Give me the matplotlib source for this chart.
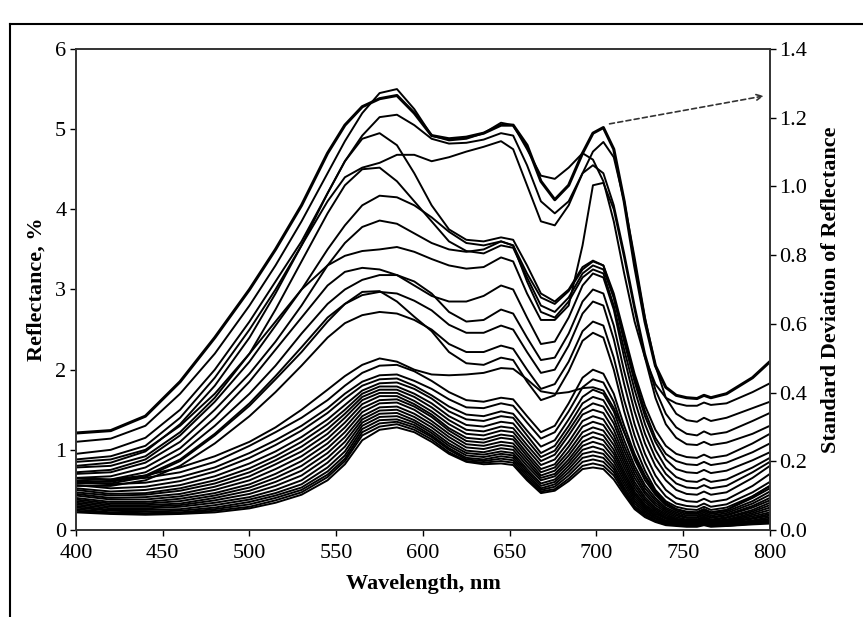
import matplotlib
matplotlib.use("Agg")
import matplotlib.pyplot as plt
from matplotlib.lines import Line2D

# wavelength grid (nm) used for every spectrum
wavelength = [400, 420, 440, 460, 480, 500,
              515, 530, 545, 555, 565, 575,
              585, 595, 605, 615, 625, 635, 645, 652,
              660, 668, 676, 684, 692, 698, 704, 710, 716,
              722, 728, 734, 740, 746, 752, 758, 762, 766, 775, 790, 800]

# upper spectra (reflectance, %)
u1 = [1.21, 1.24, 1.42, 1.85, 2.40, 3.00,
      3.50, 4.05, 4.70, 5.05, 5.28, 5.38,
      5.42, 5.20, 4.92, 4.88, 4.90, 4.95, 5.05, 5.05,
      4.80, 4.35, 4.12, 4.30, 4.70, 4.95, 5.02, 4.75, 4.10,
      3.30, 2.60, 2.05, 1.78, 1.68, 1.65, 1.64, 1.68, 1.65, 1.70, 1.90, 2.10]
u2 = [1.10, 1.14, 1.30, 1.70, 2.20, 2.80,
      3.30, 3.85, 4.45, 4.85, 5.20, 5.45,
      5.50, 5.25, 4.92, 4.86, 4.88, 4.95, 5.08, 5.05,
      4.75, 4.42, 4.38, 4.52, 4.70, 4.62, 4.35, 3.85, 3.20,
      2.60, 2.15, 1.82, 1.65, 1.58, 1.55, 1.55, 1.59, 1.56, 1.58, 1.72, 1.83]
u3 = [0.95, 1.00, 1.15, 1.50, 2.00, 2.60,
      3.10, 3.60, 4.20, 4.60, 4.92, 5.15,
      5.18, 5.05, 4.88, 4.82, 4.83, 4.87, 4.95, 4.92,
      4.55, 4.10, 3.95, 4.10, 4.45, 4.72, 4.84, 4.65, 4.10,
      3.40, 2.65, 2.05, 1.65, 1.45, 1.37, 1.35, 1.40, 1.36, 1.40, 1.52, 1.60]
u4 = [0.88, 0.92, 1.05, 1.40, 1.90, 2.50,
      3.00, 3.55, 4.10, 4.40, 4.52, 4.58,
      4.68, 4.68, 4.60, 4.65, 4.72, 4.78, 4.85, 4.75,
      4.30, 3.85, 3.80, 4.05, 4.45, 4.55, 4.45, 4.05, 3.45,
      2.80, 2.20, 1.75, 1.45, 1.28, 1.20, 1.18, 1.23, 1.19, 1.22, 1.36, 1.46]
u5 = [0.80, 0.84, 0.98, 1.32, 1.80, 2.40,
      2.95, 3.55, 4.20, 4.60, 4.88, 4.95,
      4.80, 4.45, 4.05, 3.75, 3.62, 3.60, 3.65, 3.62,
      3.30, 2.95, 2.85, 3.00, 3.28, 3.36, 3.30, 2.95, 2.45,
      1.95, 1.55, 1.25, 1.05, 0.95, 0.91, 0.90, 0.94, 0.90, 0.93, 1.08, 1.20]
u6 = [0.78, 0.80, 0.92, 1.22, 1.65, 2.20,
      2.75, 3.35, 3.95, 4.30, 4.50, 4.52,
      4.35, 4.10, 3.85, 3.60, 3.48, 3.45, 3.55, 3.52,
      3.15, 2.80, 2.72, 2.90, 3.20, 3.30, 3.25, 2.90, 2.40,
      1.90, 1.48, 1.15, 0.95, 0.86, 0.82, 0.81, 0.85, 0.81, 0.84, 0.97, 1.08]

# middle spectra
m1 = [0.72, 0.75, 0.88, 1.18, 1.60, 2.10,
      2.55, 3.00, 3.50, 3.80, 4.05, 4.17,
      4.15, 4.05, 3.90, 3.72, 3.58, 3.55, 3.60, 3.55,
      3.20, 2.90, 2.82, 2.98, 3.25, 3.35, 3.30, 2.90, 2.35,
      1.85, 1.42, 1.10, 0.88, 0.76, 0.72, 0.71, 0.75, 0.71, 0.74, 0.87, 0.97]
m2 = [0.70, 0.72, 0.84, 1.10, 1.50, 1.95,
      2.35, 2.80, 3.30, 3.58, 3.78, 3.86,
      3.82, 3.70, 3.58, 3.50, 3.47, 3.50, 3.60, 3.55,
      3.10, 2.72, 2.65, 2.85, 3.15, 3.25, 3.20, 2.80, 2.25,
      1.75, 1.32, 1.00, 0.78, 0.66, 0.61, 0.60, 0.64, 0.60, 0.63, 0.78, 0.90]
m3 = [0.85, 0.88, 1.00, 1.30, 1.70, 2.20,
      2.60, 3.00, 3.30, 3.42, 3.48, 3.50,
      3.53, 3.47, 3.38, 3.30, 3.26, 3.28, 3.40, 3.35,
      2.95, 2.62, 2.62, 2.80, 3.55, 4.30, 4.33, 4.00, 3.40,
      2.75, 2.15, 1.65, 1.32, 1.15, 1.07, 1.06, 1.10, 1.06, 1.09, 1.20, 1.30]
m4 = [0.65, 0.67, 0.78, 1.02, 1.40, 1.85,
      2.25, 2.65, 3.05, 3.22, 3.27, 3.25,
      3.18, 3.05, 2.92, 2.85, 2.85, 2.92, 3.05, 3.00,
      2.65, 2.32, 2.35, 2.65, 3.05, 3.20, 3.15, 2.75, 2.15,
      1.62, 1.20, 0.90, 0.70, 0.58, 0.53, 0.52, 0.56, 0.52, 0.55, 0.72, 0.85]
m5 = [0.62, 0.63, 0.72, 0.95, 1.30, 1.70,
      2.05, 2.45, 2.82, 3.00, 3.12, 3.18,
      3.18, 3.10, 2.95, 2.72, 2.60, 2.62, 2.75, 2.70,
      2.40, 2.12, 2.15, 2.45, 2.85, 3.00, 2.95, 2.55, 1.98,
      1.48, 1.08, 0.80, 0.62, 0.50, 0.45, 0.44, 0.48, 0.44, 0.47, 0.65, 0.80]
m6 = [0.60, 0.60, 0.68, 0.88, 1.20, 1.58,
      1.92, 2.28, 2.65, 2.82, 2.93, 2.97,
      2.95, 2.86, 2.74, 2.56, 2.46, 2.46, 2.55, 2.50,
      2.22, 1.96, 2.00, 2.30, 2.70, 2.85, 2.80, 2.38, 1.82,
      1.32, 0.95, 0.68, 0.50, 0.40, 0.36, 0.35, 0.39, 0.35, 0.38, 0.55, 0.70]
m7 = [0.55, 0.55, 0.62, 0.80, 1.08, 1.42,
      1.72, 2.05, 2.40, 2.58, 2.68, 2.72,
      2.70, 2.62, 2.50, 2.32, 2.22, 2.22, 2.30, 2.26,
      2.00, 1.76, 1.82, 2.10, 2.48, 2.60, 2.55, 2.15, 1.62,
      1.18, 0.84, 0.58, 0.42, 0.33, 0.30, 0.29, 0.33, 0.29, 0.32, 0.47, 0.60]
m8 = [0.58, 0.58, 0.66, 0.86, 1.18, 1.55,
      1.88, 2.22, 2.60, 2.82, 2.97, 2.98,
      2.85, 2.66, 2.48, 2.22, 2.08, 2.06, 2.15, 2.12,
      1.85, 1.62, 1.68, 1.98, 2.36, 2.46, 2.40, 2.00, 1.48,
      1.05, 0.74, 0.50, 0.36, 0.29, 0.26, 0.25, 0.29, 0.25, 0.28, 0.42, 0.55]
m9 = [0.65, 0.63, 0.68, 0.78, 0.92, 1.10,
      1.28, 1.50, 1.75, 1.92, 2.06, 2.14,
      2.10, 2.00, 1.94, 1.93, 1.94, 1.96, 2.02, 2.01,
      1.88, 1.73, 1.70, 1.72, 1.77, 1.78, 1.74, 1.52, 1.22,
      0.92, 0.66, 0.46, 0.33, 0.26, 0.23, 0.22, 0.26, 0.22, 0.25, 0.42, 0.55]

# lower spectra
l1 = [0.65, 0.62, 0.65, 0.72, 0.85, 1.05,
      1.22, 1.40, 1.62, 1.80, 1.96, 2.05,
      2.06, 1.98, 1.86, 1.72, 1.62, 1.60, 1.65, 1.63,
      1.42, 1.22, 1.30, 1.58, 1.90, 2.00, 1.95, 1.70, 1.30,
      0.95, 0.68, 0.48, 0.34, 0.26, 0.22, 0.22, 0.26, 0.22, 0.25, 0.40, 0.52]
l2 = [0.60, 0.57, 0.59, 0.66, 0.78, 0.96,
      1.12, 1.30, 1.52, 1.70, 1.85, 1.93,
      1.94, 1.86, 1.76, 1.63, 1.53, 1.52, 1.58, 1.55,
      1.34, 1.14, 1.22, 1.48, 1.78, 1.88, 1.84, 1.60, 1.22,
      0.88, 0.62, 0.44, 0.31, 0.24, 0.20, 0.20, 0.24, 0.20, 0.23, 0.36, 0.48]
l3 = [0.56, 0.52, 0.54, 0.61, 0.73, 0.90,
      1.06, 1.24, 1.46, 1.64, 1.80, 1.88,
      1.89, 1.80, 1.68, 1.54, 1.44, 1.42, 1.48, 1.45,
      1.24, 1.04, 1.12, 1.38, 1.66, 1.75, 1.70, 1.48, 1.12,
      0.80, 0.56, 0.40, 0.28, 0.22, 0.18, 0.18, 0.22, 0.18, 0.21, 0.33, 0.44]
l4 = [0.52, 0.48, 0.50, 0.56, 0.67, 0.83,
      0.98, 1.16, 1.38, 1.56, 1.74, 1.83,
      1.84, 1.76, 1.64, 1.48, 1.38, 1.36, 1.42, 1.40,
      1.18, 0.96, 1.05, 1.30, 1.58, 1.66, 1.62, 1.40, 1.05,
      0.75, 0.52, 0.37, 0.26, 0.20, 0.16, 0.16, 0.20, 0.16, 0.19, 0.30, 0.40]
l5 = [0.50, 0.45, 0.46, 0.52, 0.62, 0.77,
      0.92, 1.10, 1.32, 1.50, 1.70, 1.79,
      1.79, 1.70, 1.58, 1.42, 1.31, 1.29, 1.35, 1.33,
      1.12, 0.91, 0.99, 1.24, 1.50, 1.58, 1.54, 1.33, 0.99,
      0.70, 0.48, 0.34, 0.24, 0.18, 0.15, 0.15, 0.19, 0.15, 0.18, 0.28, 0.37]
l6 = [0.47, 0.43, 0.44, 0.49, 0.58, 0.72,
      0.87, 1.04, 1.26, 1.45, 1.66, 1.75,
      1.75, 1.66, 1.53, 1.37, 1.25, 1.23, 1.29, 1.27,
      1.06, 0.86, 0.94, 1.18, 1.44, 1.50, 1.46, 1.25, 0.93,
      0.65, 0.45, 0.31, 0.22, 0.16, 0.13, 0.13, 0.17, 0.13, 0.16, 0.25, 0.34]
l7 = [0.45, 0.40, 0.41, 0.45, 0.54, 0.67,
      0.82, 0.98, 1.20, 1.40, 1.62, 1.71,
      1.71, 1.61, 1.48, 1.32, 1.20, 1.18, 1.24, 1.22,
      1.01, 0.81, 0.88, 1.10, 1.36, 1.42, 1.38, 1.18, 0.88,
      0.60, 0.41, 0.28, 0.20, 0.14, 0.12, 0.12, 0.16, 0.12, 0.15, 0.23, 0.31]
l8 = [0.43, 0.38, 0.38, 0.42, 0.50, 0.62,
      0.76, 0.92, 1.14, 1.34, 1.57, 1.67,
      1.67, 1.57, 1.44, 1.27, 1.15, 1.13, 1.19, 1.17,
      0.96, 0.76, 0.82, 1.04, 1.29, 1.35, 1.31, 1.12, 0.83,
      0.56, 0.38, 0.26, 0.18, 0.13, 0.11, 0.11, 0.15, 0.11, 0.13, 0.21, 0.28]
l9 = [0.40, 0.35, 0.35, 0.39, 0.46, 0.57,
      0.70, 0.86, 1.08, 1.28, 1.52, 1.62,
      1.63, 1.54, 1.41, 1.24, 1.11, 1.09, 1.15, 1.13,
      0.92, 0.72, 0.78, 0.98, 1.22, 1.28, 1.24, 1.06, 0.78,
      0.52, 0.35, 0.24, 0.16, 0.12, 0.10, 0.10, 0.14, 0.10, 0.12, 0.19, 0.25]
l10 = [0.38, 0.33, 0.33, 0.36, 0.43, 0.53,
       0.65, 0.80, 1.02, 1.22, 1.47, 1.58,
       1.59, 1.50, 1.36, 1.20, 1.07, 1.05, 1.10, 1.08,
       0.88, 0.68, 0.74, 0.93, 1.16, 1.22, 1.18, 1.00, 0.73,
       0.48, 0.32, 0.22, 0.15, 0.11, 0.09, 0.09, 0.13, 0.09, 0.11, 0.17, 0.22]
l11 = [0.36, 0.31, 0.31, 0.33, 0.40, 0.49,
       0.60, 0.74, 0.96, 1.16, 1.42, 1.53,
       1.54, 1.45, 1.32, 1.16, 1.03, 1.01, 1.06, 1.04,
       0.84, 0.65, 0.70, 0.88, 1.10, 1.16, 1.12, 0.95, 0.69,
       0.45, 0.30, 0.20, 0.14, 0.10, 0.08, 0.08, 0.12, 0.08, 0.10, 0.15, 0.20]
l12 = [0.34, 0.29, 0.29, 0.31, 0.37, 0.45,
       0.55, 0.68, 0.90, 1.10, 1.38, 1.49,
       1.50, 1.41, 1.28, 1.12, 0.99, 0.97, 1.02, 1.00,
       0.80, 0.62, 0.67, 0.84, 1.05, 1.10, 1.06, 0.90, 0.65,
       0.42, 0.28, 0.18, 0.12, 0.09, 0.08, 0.08, 0.11, 0.08, 0.09, 0.14, 0.18]
l13 = [0.32, 0.27, 0.27, 0.29, 0.34, 0.41,
       0.50, 0.62, 0.84, 1.04, 1.34, 1.45,
       1.46, 1.37, 1.24, 1.08, 0.96, 0.94, 0.98, 0.96,
       0.76, 0.58, 0.63, 0.80, 1.00, 1.04, 1.00, 0.85, 0.61,
       0.39, 0.26, 0.17, 0.11, 0.08, 0.07, 0.07, 0.10, 0.07, 0.08, 0.12, 0.16]
l14 = [0.30, 0.25, 0.25, 0.26, 0.31, 0.38,
       0.46, 0.57, 0.78, 0.98, 1.30, 1.41,
       1.42, 1.34, 1.21, 1.05, 0.93, 0.91, 0.95, 0.93,
       0.73, 0.55, 0.60, 0.76, 0.95, 0.98, 0.95, 0.80, 0.57,
       0.36, 0.24, 0.15, 0.10, 0.08, 0.06, 0.06, 0.09, 0.06, 0.07, 0.11, 0.14]
l15 = [0.28, 0.24, 0.23, 0.24, 0.28, 0.35,
       0.43, 0.53, 0.73, 0.93, 1.26, 1.37,
       1.38, 1.31, 1.18, 1.02, 0.90, 0.88, 0.92, 0.90,
       0.70, 0.52, 0.57, 0.72, 0.90, 0.93, 0.90, 0.76, 0.53,
       0.33, 0.22, 0.14, 0.09, 0.07, 0.06, 0.06, 0.08, 0.06, 0.07, 0.10, 0.12]
l16 = [0.26, 0.22, 0.21, 0.22, 0.26, 0.32,
       0.40, 0.50, 0.69, 0.89, 1.22, 1.33,
       1.35, 1.28, 1.16, 1.00, 0.88, 0.86, 0.89, 0.87,
       0.67, 0.50, 0.54, 0.68, 0.85, 0.88, 0.85, 0.72, 0.50,
       0.30, 0.20, 0.12, 0.08, 0.06, 0.05, 0.05, 0.07, 0.05, 0.06, 0.09, 0.11]
l17 = [0.24, 0.21, 0.20, 0.21, 0.24, 0.29,
       0.37, 0.47, 0.66, 0.86, 1.18, 1.29,
       1.32, 1.25, 1.13, 0.97, 0.86, 0.84, 0.86, 0.84,
       0.64, 0.48, 0.51, 0.64, 0.80, 0.83, 0.80, 0.68, 0.47,
       0.28, 0.18, 0.11, 0.07, 0.06, 0.05, 0.05, 0.07, 0.05, 0.05, 0.08, 0.10]
l18 = [0.22, 0.20, 0.19, 0.20, 0.22, 0.27,
       0.34, 0.44, 0.62, 0.82, 1.12, 1.25,
       1.28, 1.22, 1.10, 0.95, 0.85, 0.82, 0.83, 0.81,
       0.62, 0.46, 0.49, 0.61, 0.76, 0.78, 0.76, 0.63, 0.44,
       0.26, 0.16, 0.10, 0.06, 0.05, 0.04, 0.04, 0.06, 0.04, 0.05, 0.07, 0.08]

spectra = [u1, u2, u3, u4, u5, u6, m1, m2, m3, m4, m5, m6, m7, m8, m9,
           l1, l2, l3, l4, l5, l6, l7, l8, l9, l10, l11, l12, l13, l14, l15, l16, l17, l18]

x_ticks = [400, 450, 500, 550, 600, 650, 700, 750, 800]
left_ticks = [0, 1, 2, 3, 4, 5, 6]
right_ticks = [0.0, 0.2, 0.4, 0.6, 0.8, 1.0, 1.2, 1.4]


def dibujar():
    plt.rcParams['font.family'] = ['Liberation Serif', 'DejaVu Serif']

    fig = plt.figure(figsize=(8.63, 6.17), dpi=100)
    ax = fig.add_axes([0.0881, 0.141, 0.804, 0.7796])

    # todas las curvas en negro, la primera mas gruesa
    for i, s in enumerate(spectra):
        ax.plot(wavelength, s, color='black', lw=2.2 if i == 0 else 1.4,
                solid_joinstyle='round', solid_capstyle='round')

    ax.set_xlim(400, 800)
    ax.set_ylim(0, 6)
    ax.set_xticks(x_ticks)
    ax.set_yticks(left_ticks)
    ax.tick_params(axis='both', direction='out', length=4, width=1, labelsize=16, pad=3)
    ax.tick_params(axis='x', pad=6)
    for sp in ax.spines.values():
        sp.set_linewidth(1.2)
        sp.set_color('#333333')

    ax.set_xlabel('Wavelength, nm', fontsize=16, fontweight='bold', labelpad=8)
    ax.set_ylabel('Reflectance, %', fontsize=16, fontweight='bold', labelpad=6)

    # eje derecho: desviacion estandar
    ax2 = ax.twinx()
    ax2.set_ylim(0, 1.4)
    ax2.set_yticks(right_ticks)
    ax2.set_yticklabels([f'{t:.1f}' for t in right_ticks])
    ax2.tick_params(axis='y', direction='out', length=4, width=1, labelsize=16, pad=3)
    ax2.set_ylabel('Standard Deviation of Reflectance', fontsize=16, fontweight='bold',
                   rotation=90, labelpad=10)
    for sp in ax2.spines.values():
        sp.set_linewidth(1.2)
        sp.set_color('#333333')

    # flecha punteada hacia el eje derecho
    ax.annotate('', xy=(798, 5.42), xytext=(706, 5.06),
                arrowprops=dict(arrowstyle='->', linestyle=(0, (3, 2)), lw=1.2, color='#333333'))

    # marco de la figura
    fig.add_artist(Line2D([10 / 863, 1.0], [1 - 24 / 617, 1 - 24 / 617], color='black', lw=1.5))
    fig.add_artist(Line2D([10 / 863, 10 / 863], [0.0, 1 - 24 / 617], color='black', lw=1.5))

    fig.savefig('out.png', dpi=100)


if __name__ == "__main__":
    dibujar()
